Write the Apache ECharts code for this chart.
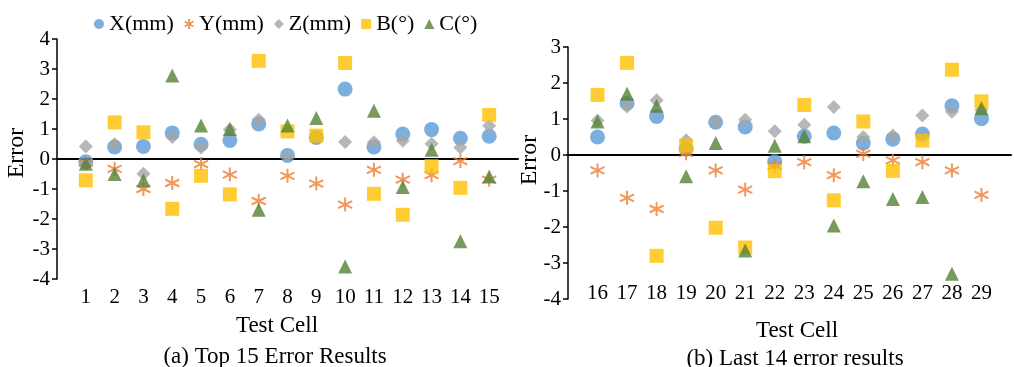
<!DOCTYPE html>
<html>
<head>
<meta charset="utf-8">
<script src="https://cdn.jsdelivr.net/npm/echarts@6/dist/echarts.min.js"></script>
<style>
  html, body { margin: 0; padding: 0; background: #fff; }
  #chart { width: 1014px; height: 367px; }
</style>
</head>
<body>
<div id="chart"></div>
<script>
// data
var cellsA = [1, 2, 3, 4, 5, 6, 7, 8, 9, 10, 11, 12, 13, 14, 15];
var xA = [-0.09, 0.40, 0.42, 0.87, 0.49, 0.62, 1.17, 0.12, 0.72, 2.33, 0.40, 0.83, 0.98, 0.69, 0.76];
var yA = [-0.13, -0.33, -1.00, -0.80, -0.17, -0.52, -1.40, -0.56, -0.82, -1.52, -0.36, -0.69, -0.54, -0.07, -0.69];
var zA = [0.42, 0.49, -0.49, 0.73, 0.38, 0.98, 1.31, 0.12, 0.70, 0.57, 0.56, 0.61, 0.51, 0.38, 1.11];
var bA = [-0.71, 1.22, 0.89, -1.66, -0.56, -1.18, 3.27, 0.92, 0.78, 3.20, -1.16, -1.86, -0.24, -0.96, 1.47];
var cA = [-0.16, -0.50, -0.71, 2.78, 1.12, 1.00, -1.69, 1.12, 1.37, -3.58, 1.61, -0.93, 0.31, -2.74, -0.58];

var cellsB = [16, 17, 18, 19, 20, 21, 22, 23, 24, 25, 26, 27, 28, 29];
var xB = [0.50, 1.44, 1.07, 0.17, 0.91, 0.78, -0.18, 0.52, 0.61, 0.33, 0.44, 0.58, 1.37, 1.01];
var yB = [-0.43, -1.19, -1.50, 0.05, -0.43, -0.96, -0.30, -0.20, -0.56, 0.03, -0.15, -0.20, -0.43, -1.11];
var zB = [0.96, 1.35, 1.52, 0.41, 0.91, 0.98, 0.66, 0.84, 1.33, 0.50, 0.54, 1.10, 1.20, 1.25];
var bB = [1.67, 2.56, -2.80, 0.26, -2.02, -2.57, -0.45, 1.39, -1.26, 0.93, -0.44, 0.40, 2.37, 1.49];
var cB = [0.93, 1.70, 1.37, -0.59, 0.33, -2.65, 0.26, 0.52, -1.96, -0.73, -1.22, -1.17, -3.30, 1.30];

var names = ['X(mm)', 'Y(mm)', 'Z(mm)', 'B(°)', 'C(°)'];

var font = 'Liberation Serif';
var star = 'path://M0,-10L0,10M-8.66,-5L8.66,5M-8.66,5L8.66,-5';

function pairs(cells, vals) {
    return cells.map(function (c, i) { return [c, vals[i]]; });
}

// one entry per legend item: symbol + style
var looks = [
    { symbol: 'circle', size: 15, itemStyle: { color: '#5B9BD5' } },
    { symbol: star, size: 14, itemStyle: { color: '#ED7D31', borderColor: '#ED7D31', borderWidth: 2 } },
    { symbol: 'diamond', size: 14, itemStyle: { color: '#A5A5A5' } },
    { symbol: 'rect', size: 14, itemStyle: { color: '#FFC000' } },
    { symbol: 'triangle', size: 14, itemStyle: { color: '#548235' } }
];

function makeSeries(idx, cells, sets) {
    return sets.map(function (vals, k) {
        return {
            name: names[k],
            type: 'scatter',
            xAxisIndex: idx * 2,
            yAxisIndex: idx,
            symbol: looks[k].symbol,
            symbolSize: looks[k].size,
            itemStyle: looks[k].itemStyle,
            data: pairs(cells, vals)
        };
    });
}

var labelText = { color: '#000', fontFamily: font, fontSize: 21 };

function labelAxis(grid, min, max, margin) {
    return {
        type: 'value', gridIndex: grid, min: min, max: max, interval: 1,
        axisLine: { show: false, onZero: false },
        axisTick: { show: false },
        splitLine: { show: false },
        axisLabel: Object.assign({
            margin: margin,
            formatter: function (v) { return (v === min || v === max) ? '' : v; }
        }, labelText)
    };
}

function zeroAxis(grid, min, max) {
    return {
        type: 'value', gridIndex: grid, min: min, max: max,
        axisLine: { show: true, onZero: true, lineStyle: { color: '#000', width: 2 } },
        axisTick: { show: false },
        axisLabel: { show: false },
        splitLine: { show: false }
    };
}

function yAxisDef(grid, min, max) {
    return {
        type: 'value', gridIndex: grid, min: min, max: max, interval: 1,
        axisLine: { show: true, lineStyle: { color: '#000', width: 1.5 } },
        axisTick: { show: true, inside: false, length: 5, lineStyle: { color: '#000', width: 1.5 } },
        axisLabel: Object.assign({ margin: 7 }, labelText),
        splitLine: { show: false }
    };
}

function textStyle(size) {
    return { fontFamily: font, fontSize: size, fontWeight: 'normal', color: '#000' };
}

var chart = echarts.init(document.getElementById('chart'));

var option = {
    animation: false,
    backgroundColor: '#fff',
    legend: {
        left: 89, top: 8,
        itemWidth: 10, itemHeight: 10, itemGap: 10,
        textStyle: { color: '#000', fontFamily: font, fontSize: 22 },
        data: names
    },
    title: [
        { text: 'Test Cell', left: 272, top: 309, textAlign: 'center', textStyle: textStyle(23) },
        { text: '(a) Top 15 Error Results', left: 270, top: 340, textAlign: 'center', textStyle: textStyle(23) },
        { text: 'Test Cell', left: 792, top: 314, textAlign: 'center', textStyle: textStyle(23) },
        { text: '(b) Last 14 error results', left: 790, top: 342, textAlign: 'center', textStyle: textStyle(23) }
    ],
    graphic: [
        { type: 'text', x: 17, y: 153, rotation: Math.PI / 2,
          style: { text: 'Error', font: '24px "Liberation Serif"', fill: '#000', align: 'center', verticalAlign: 'middle' } },
        { type: 'text', x: 530, y: 160, rotation: Math.PI / 2,
          style: { text: 'Error', font: '24px "Liberation Serif"', fill: '#000', align: 'center', verticalAlign: 'middle' } }
    ],
    grid: [
        { left: 57, right: 496, top: 39, bottom: 88 },
        { left: 568, right: -10, top: 47, bottom: 68 }
    ],
    xAxis: [
        labelAxis(0, 0, 16, 8),
        zeroAxis(0, 0, 16),
        labelAxis(1, 15, 30, -16),
        zeroAxis(1, 15, 30)
    ],
    yAxis: [
        yAxisDef(0, -4, 4),
        yAxisDef(1, -4, 3)
    ],
    series: makeSeries(0, cellsA, [xA, yA, zA, bA, cA])
        .concat(makeSeries(1, cellsB, [xB, yB, zB, bB, cB]))
};

chart.setOption(option);
</script>
</body>
</html>
